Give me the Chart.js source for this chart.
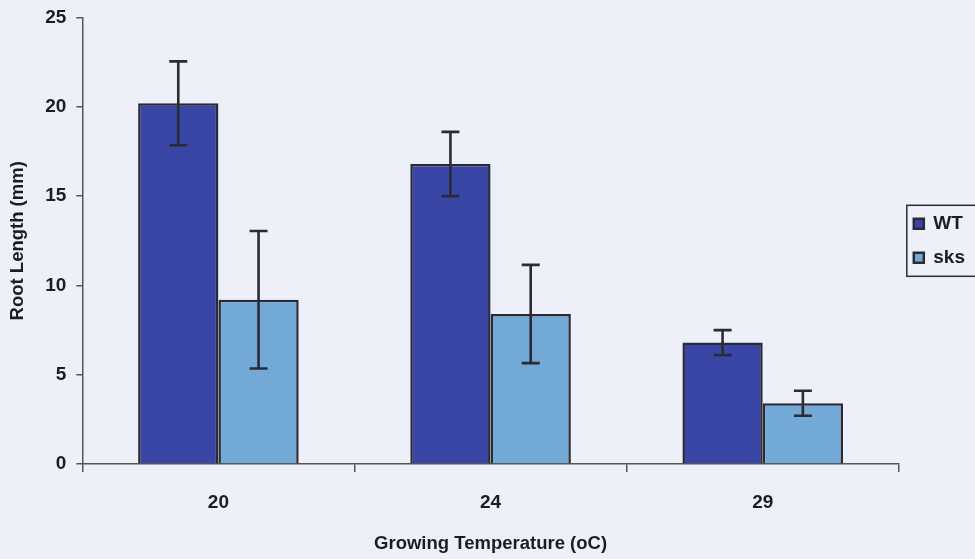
<!DOCTYPE html>
<html>
<head>
<meta charset="utf-8">
<script src="https://cdn.jsdelivr.net/npm/chart.js@4"></script>
<style>
  html, body { margin: 0; padding: 0; background: #eef0f9; }
  #wrap { width: 975px; height: 559px; }
</style>
</head>
<body>
<div id="wrap"><canvas id="rootChart" width="975" height="559"></canvas></div>
<script>
// root length by growing temperature
const temps     = ['20', '24', '29'];
const wtMeans   = [20.2, 16.8, 6.8];
const wtErrors  = [2.35, 1.8, 0.7];
const sksMeans  = [9.2, 8.4, 3.4];
const sksErrors = [3.85, 2.75, 0.7];
const yTicks    = [0, 5, 10, 15, 20, 25];

const INK  = '#2b2b35';
const TXT  = '#1c1c22';
const FONT = 'Liberation Sans, Arial, sans-serif';

const pageBg = {
  id: 'pageBg',
  beforeDraw(chart) {
    const { ctx, width, height } = chart;
    ctx.save();
    ctx.fillStyle = '#eef0f9';
    ctx.fillRect(0, 0, width, height);
    ctx.restore();
  },
};

// error bars drawn from each dataset's errors through the y scale
const errorBars = {
  id: 'errorBars',
  afterDatasetsDraw(chart) {
    const { ctx, scales: { y } } = chart;
    ctx.save();
    ctx.strokeStyle = INK;
    ctx.lineWidth = 2.6;
    chart.data.datasets.forEach((ds, i) => {
      chart.getDatasetMeta(i).data.forEach((bar, j) => {
        const top = y.getPixelForValue(ds.data[j] + ds.errors[j]);
        const bot = y.getPixelForValue(ds.data[j] - ds.errors[j]);
        ctx.beginPath();
        ctx.moveTo(bar.x, top); ctx.lineTo(bar.x, bot);
        ctx.moveTo(bar.x - 9, top); ctx.lineTo(bar.x + 9, top);
        ctx.moveTo(bar.x - 9, bot); ctx.lineTo(bar.x + 9, bot);
        ctx.stroke();
      });
    });
    ctx.restore();
  },
};

// box round the legend items, as in the original
const legendBox = {
  id: 'legendBox',
  afterDraw(chart) {
    const boxes = chart.legend && chart.legend.legendHitBoxes;
    if (!boxes || !boxes.length) return;
    const first = boxes[0], last = boxes[boxes.length - 1];
    const { ctx } = chart;
    const left = first.left - 7, top = first.top - 9;
    const bottom = last.top + last.height + 9;
    ctx.save();
    ctx.strokeStyle = INK;
    ctx.lineWidth = 1.5;
    ctx.strokeRect(left, top, chart.width + 4 - left, bottom - top);
    ctx.restore();
  },
};

new Chart(document.getElementById('rootChart'), {
  type: 'bar',
  data: {
    labels: temps,
    datasets: [
      { label: 'WT',  data: wtMeans,  errors: wtErrors,
        backgroundColor: '#3a46a5', borderColor: INK, borderWidth: 2.5 },
      { label: 'sks', data: sksMeans, errors: sksErrors,
        backgroundColor: '#72a9d6', borderColor: INK, borderWidth: 2.5 },
    ],
  },
  options: {
    responsive: false,
    animation: false,
    devicePixelRatio: 1,
    categoryPercentage: 0.59,
    barPercentage: 1,
    layout: { padding: { top: 0, left: 4, right: 0, bottom: 4 } },
    plugins: {
      legend: {
        position: 'right',
        align: 'center',
        fullSize: false,
        labels: {
          color: TXT,
          font: { family: FONT, size: 19, weight: 'bold' },
          boxWidth: 10, boxHeight: 10, padding: 15,
        },
      },
      tooltip: { enabled: false },
    },
    scales: {
      x: {
        grid: { offset: true, drawOnChartArea: false, tickLength: 8, color: '#555', lineWidth: 1.5 },
        border: { color: '#555', width: 1.5 },
        ticks: { color: TXT, padding: 19, font: { family: FONT, size: 19, weight: 'bold' } },
        title: {
          display: true, text: 'Growing Temperature (oC)', color: TXT,
          font: { family: FONT, size: 18.5, weight: 'bold' }, padding: { top: 0, bottom: 0 },
        },
      },
      y: {
        min: 0, max: 25,
        afterBuildTicks: axis => { axis.ticks = yTicks.map(v => ({ value: v })); },
        grid: { drawOnChartArea: false, tickLength: 6, color: '#555', lineWidth: 1.5 },
        border: { color: '#555', width: 1.5 },
        ticks: { color: TXT, padding: 10, font: { family: FONT, size: 19, weight: 'bold', lineHeight: 0.8 } },
        title: {
          display: true, text: 'Root Length (mm)', color: TXT,
          font: { family: FONT, size: 18.5, weight: 'bold' }, padding: { top: 3, bottom: 6 },
        },
      },
    },
  },
  plugins: [pageBg, errorBars, legendBox],
});
</script>
</body>
</html>
